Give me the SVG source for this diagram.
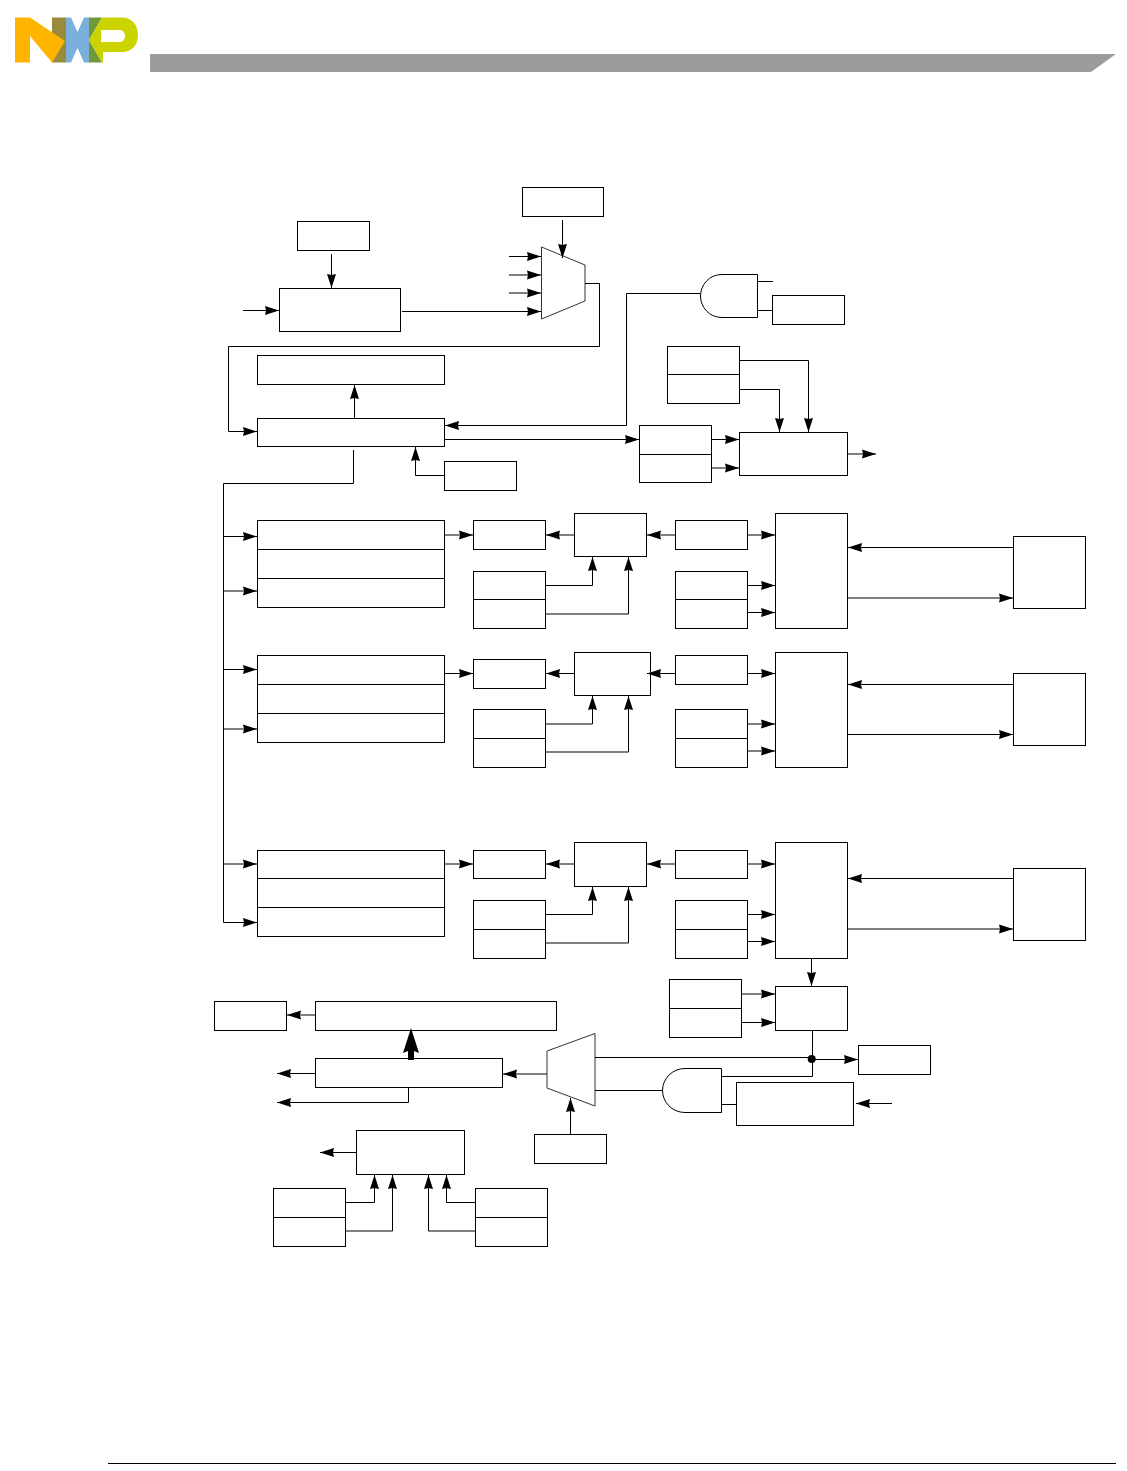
<svg xmlns="http://www.w3.org/2000/svg" width="1127" height="1471" viewBox="0 0 1127 1471">
<style>
.b{fill:#fff;stroke:#000;stroke-width:1}
.d{fill:none;stroke:#000;stroke-width:1}
.c polyline,.c line{fill:none;stroke:#000;stroke-width:1}
.a{marker-end:url(#ah)}
.g{fill:#fff;stroke:#333;stroke-width:1}
</style>
<defs>
<marker id="ah" markerUnits="userSpaceOnUse" markerWidth="14" markerHeight="10" viewBox="0 0 14 10" refX="14" refY="5" orient="auto"><polygon points="0,0.5 14,5 0,9.5 1,5" fill="#000"/></marker>
</defs>
<rect width="1127" height="1471" fill="#fff"/>
<g id="header">
<polygon points="150,54 1116,54 1091,72 150,72" fill="#9c9c9c"/>
<line x1="108" y1="1463.5" x2="1116" y2="1463.5" stroke="#000" stroke-width="1"/>
</g>
<g id="logo">
<rect x="52" y="17.5" width="14" height="45" fill="#9a8a3c"/>
<polygon points="15,17.5 30,17.5 65,41 52,62.5 30,36 30,62.5 15,62.5" fill="#ffb500"/>
<polygon points="66,17.5 71,17.5 77.5,32 84,17.5 89,17.5 89,62.5 84,62.5 77.5,48 71,62.5 66,62.5" fill="#7ab1dc"/>
<polygon points="89,17.5 102,17.5 89,40 102,62.5 89,62.5" fill="#6f9a3a"/>
<path fill-rule="evenodd" d="M102,17.5H122C132,17.5 138,25 138,35C138,45 132,52 122,52H103V62.5H102L89,40ZM101,30V42H120C123,42 125,39 125,36C125,33 123,30 120,30Z" fill="#ccd400"/>
</g>
<g id="sel-top"><rect class="b" x="522.5" y="187.5" width="81" height="29"/></g>
<g id="mux-top"><polygon class="g" points="541.5,247 585,265 585,301 541.5,319"/></g>
<g id="clk-sel"><rect class="b" x="297.5" y="221.5" width="72" height="29"/></g>
<g id="clk-gen"><rect class="b" x="279.5" y="288.5" width="121" height="43"/></g>
<g id="and-top"><path class="b" d="M722,274.5H757.5V317.5H722C709,317.5 700.5,307 700.5,296C700.5,285 709,274.5 722,274.5Z"/></g>
<g id="and-top-reg"><rect class="b" x="772.5" y="295.5" width="72" height="29"/></g>
<g id="top-wide"><rect class="b" x="257.5" y="355.5" width="187" height="29"/></g>
<g id="div-wide"><rect class="b" x="257.5" y="418.5" width="187" height="28"/></g>
<g id="small-reg"><rect class="b" x="444.5" y="461.5" width="72" height="29"/></g>
<g id="reg-a"><rect class="b" x="667.5" y="346.5" width="72" height="57"/><line class="d" x1="667.5" y1="374.5" x2="739.5" y2="374.5"/></g>
<g id="reg-b"><rect class="b" x="639.5" y="425.5" width="72" height="57"/><line class="d" x1="639.5" y1="454.5" x2="711.5" y2="454.5"/></g>
<g id="cmp-top"><rect class="b" x="739.5" y="432.5" width="108" height="43"/></g>

<g id="ch1-wide"><rect class="b" x="257.5" y="520.5" width="187" height="87"/><path class="d" d="M257.5,549.5H444.5M257.5,578.5H444.5"/></g>
<g id="ch1-r1"><rect class="b" x="473.5" y="520.5" width="72" height="29"/></g>
<g id="ch1-add"><rect class="b" x="574.5" y="513.5" width="72" height="43"/></g>
<g id="ch1-r2"><rect class="b" x="675.5" y="520.5" width="72" height="29"/></g>
<g id="ch1-mid"><rect class="b" x="775.5" y="513.5" width="72" height="115"/></g>
<g id="ch1-r3"><rect class="b" x="473.5" y="571.5" width="72" height="57"/><line class="d" x1="473.5" y1="599.5" x2="545.5" y2="599.5"/></g>
<g id="ch1-r4"><rect class="b" x="675.5" y="571.5" width="72" height="57"/><line class="d" x1="675.5" y1="599.5" x2="747.5" y2="599.5"/></g>
<g id="ch1-pin"><rect class="b" x="1013.5" y="536.5" width="72" height="72"/></g>

<g id="ch2-wide"><rect class="b" x="257.5" y="655.5" width="187" height="87"/><path class="d" d="M257.5,684.5H444.5M257.5,713.5H444.5"/></g>
<g id="ch2-r1"><rect class="b" x="473.5" y="659.5" width="72" height="29"/></g>
<g id="ch2-add"><rect class="b" x="574.5" y="652.5" width="76" height="43"/></g>
<g id="ch2-r2"><rect class="b" x="675.5" y="655.5" width="72" height="29"/></g>
<g id="ch2-mid"><rect class="b" x="775.5" y="652.5" width="72" height="115"/></g>
<g id="ch2-r3"><rect class="b" x="473.5" y="709.5" width="72" height="58"/><line class="d" x1="473.5" y1="738.5" x2="545.5" y2="738.5"/></g>
<g id="ch2-r4"><rect class="b" x="675.5" y="709.5" width="72" height="58"/><line class="d" x1="675.5" y1="738.5" x2="747.5" y2="738.5"/></g>
<g id="ch2-pin"><rect class="b" x="1013.5" y="673.5" width="72" height="72"/></g>

<g id="ch3-wide"><rect class="b" x="257.5" y="850.5" width="187" height="86"/><path class="d" d="M257.5,878.5H444.5M257.5,907.5H444.5"/></g>
<g id="ch3-r1"><rect class="b" x="473.5" y="850.5" width="72" height="28"/></g>
<g id="ch3-add"><rect class="b" x="574.5" y="842.5" width="72" height="44"/></g>
<g id="ch3-r2"><rect class="b" x="675.5" y="850.5" width="72" height="28"/></g>
<g id="ch3-mid"><rect class="b" x="775.5" y="842.5" width="72" height="116"/></g>
<g id="ch3-r3"><rect class="b" x="473.5" y="900.5" width="72" height="58"/><line class="d" x1="473.5" y1="929.5" x2="545.5" y2="929.5"/></g>
<g id="ch3-r4"><rect class="b" x="675.5" y="900.5" width="72" height="58"/><line class="d" x1="675.5" y1="929.5" x2="747.5" y2="929.5"/></g>
<g id="ch3-pin"><rect class="b" x="1013.5" y="868.5" width="72" height="72"/></g>

<g id="cmp-bottom"><rect class="b" x="775.5" y="986.5" width="72" height="44"/></g>
<g id="reg-c"><rect class="b" x="669.5" y="979.5" width="72" height="58"/><line class="d" x1="669.5" y1="1008.5" x2="741.5" y2="1008.5"/></g>
<g id="out-reg"><rect class="b" x="858.5" y="1045.5" width="72" height="29"/></g>
<g id="mux-bottom"><polygon class="g" points="547,1051 595,1033.5 595,1106 547,1088"/></g>
<g id="and-bottom"><path class="b" d="M685,1068.5H721.5V1112.5H685C672,1112.5 662.5,1102 662.5,1090.5C662.5,1079 672,1068.5 685,1068.5Z"/></g>
<g id="ctrl-reg"><rect class="b" x="736.5" y="1082.5" width="117" height="43"/></g>
<g id="mux-sel"><rect class="b" x="534.5" y="1134.5" width="72" height="29"/></g>
<g id="hold-reg"><rect class="b" x="315.5" y="1001.5" width="241" height="29"/></g>
<g id="data-reg"><rect class="b" x="214.5" y="1001.5" width="72" height="29"/></g>
<g id="cap-reg"><rect class="b" x="315.5" y="1058.5" width="187" height="29"/></g>
<g id="irq"><rect class="b" x="356.5" y="1130.5" width="108" height="44"/></g>
<g id="reg-d"><rect class="b" x="273.5" y="1188.5" width="72" height="58"/><line class="d" x1="273.5" y1="1217.5" x2="345.5" y2="1217.5"/></g>
<g id="reg-e"><rect class="b" x="475.5" y="1188.5" width="72" height="58"/><line class="d" x1="475.5" y1="1217.5" x2="547.5" y2="1217.5"/></g>

<g id="connectors" class="c">
<polyline class="a" points="562.5,220 562.5,258"/>
<polyline class="a" points="509,256.5 541,256.5"/>
<polyline class="a" points="509,275 541,275"/>
<polyline class="a" points="509,293 541,293"/>
<polyline class="a" points="402,311.5 541,311.5"/>
<polyline class="a" points="331.5,254 331.5,288"/>
<polyline class="a" points="243,310.5 279,310.5"/>
<polyline class="a" points="585,283.5 599.5,283.5 599.5,346.5 228.5,346.5 228.5,431.5 257,431.5"/>
<polyline class="a" points="354.5,418 354.5,385"/>
<polyline class="a" points="700,293.5 626.5,293.5 626.5,425.5 445,425.5"/>
<polyline class="a" points="445,439.5 639,439.5"/>
<polyline points="353.5,450 353.5,483.5 223.5,483.5 223.5,922.5"/>
<polyline class="a" points="444,475.5 415.5,475.5 415.5,447"/>
<polyline points="757.5,281.5 773,281.5"/>
<polyline points="757.5,310.5 772.5,310.5"/>
<polyline class="a" points="740,360.5 808.5,360.5 808.5,432"/>
<polyline class="a" points="740,389.5 779.5,389.5 779.5,432"/>
<polyline class="a" points="712,439.5 739,439.5"/>
<polyline class="a" points="712,468 739,468"/>
<polyline class="a" points="848,454 876,454"/>
<polyline class="a" points="223.5,536.5 257,536.5"/>
<polyline class="a" points="223.5,591 257,591"/>
<polyline class="a" points="445,535 473,535"/>
<polyline class="a" points="574,535 546,535"/>
<polyline class="a" points="675,535 647,535"/>
<polyline class="a" points="748,535 775,535"/>
<polyline class="a" points="546,585.5 592.5,585.5 592.5,557"/>
<polyline class="a" points="546,614 628.5,614 628.5,557"/>
<polyline class="a" points="748,585.5 775,585.5"/>
<polyline class="a" points="748,612.5 775,612.5"/>
<polyline class="a" points="1013,547.5 848,547.5"/>
<polyline class="a" points="848,598 1013,598"/>
<polyline class="a" points="223.5,669.5 257,669.5"/>
<polyline class="a" points="223.5,729 257,729"/>
<polyline class="a" points="445,673.5 473,673.5"/>
<polyline class="a" points="574,673.5 546,673.5"/>
<polyline class="a" points="675,673.5 647,673.5"/>
<polyline class="a" points="748,673.5 775,673.5"/>
<polyline class="a" points="546,724 592.5,724 592.5,696"/>
<polyline class="a" points="546,752 628.5,752 628.5,696"/>
<polyline class="a" points="748,724 775,724"/>
<polyline class="a" points="748,751 775,751"/>
<polyline class="a" points="1013,684.5 848,684.5"/>
<polyline class="a" points="848,734.5 1013,734.5"/>
<polyline class="a" points="223.5,864 257,864"/>
<polyline class="a" points="223.5,922.5 257,922.5"/>
<polyline class="a" points="445,864 473,864"/>
<polyline class="a" points="574,864 546,864"/>
<polyline class="a" points="675,864 647,864"/>
<polyline class="a" points="748,864 775,864"/>
<polyline class="a" points="546,914.5 592.5,914.5 592.5,887"/>
<polyline class="a" points="546,943 628.5,943 628.5,887"/>
<polyline class="a" points="748,914.5 775,914.5"/>
<polyline class="a" points="748,941.5 775,941.5"/>
<polyline class="a" points="1013,878.5 848,878.5"/>
<polyline class="a" points="848,929 1013,929"/>
<polyline class="a" points="811.5,958 811.5,986"/>
<polyline class="a" points="742,994 775,994"/>
<polyline class="a" points="742,1022.5 775,1022.5"/>
<polyline points="812.5,1031 812.5,1076.5 722,1076.5"/>
<polyline points="595,1057.5 812,1057.5"/>
<polyline class="a" points="812,1059.5 858,1059.5"/>
<polyline points="595,1090.5 662.5,1090.5"/>
<polyline points="721.5,1104.5 736.5,1104.5"/>
<polyline class="a" points="892,1103.5 856,1103.5"/>
<polyline class="a" points="570.5,1134 570.5,1098"/>
<polyline class="a" points="547,1074 503,1074"/>
<polyline class="a" points="315,1015 287,1015"/>
<polyline class="a" points="315,1073.5 277,1073.5"/>
<polyline class="a" points="408.5,1088 408.5,1102.5 277,1102.5"/>
<polyline class="a" points="356,1152.5 320,1152.5"/>
<polyline class="a" points="346,1202.5 374.5,1202.5 374.5,1175"/>
<polyline class="a" points="346,1231 392.5,1231 392.5,1175"/>
<polyline class="a" points="475,1202.5 446.5,1202.5 446.5,1175"/>
<polyline class="a" points="475,1231 428.5,1231 428.5,1175"/>
<polygon points="411,1028 419,1053 414,1051 414,1060 408,1060 408,1051 403,1053" fill="#000"/>
<circle cx="811.7" cy="1059" r="4" fill="#000"/>
</g>
</svg>
